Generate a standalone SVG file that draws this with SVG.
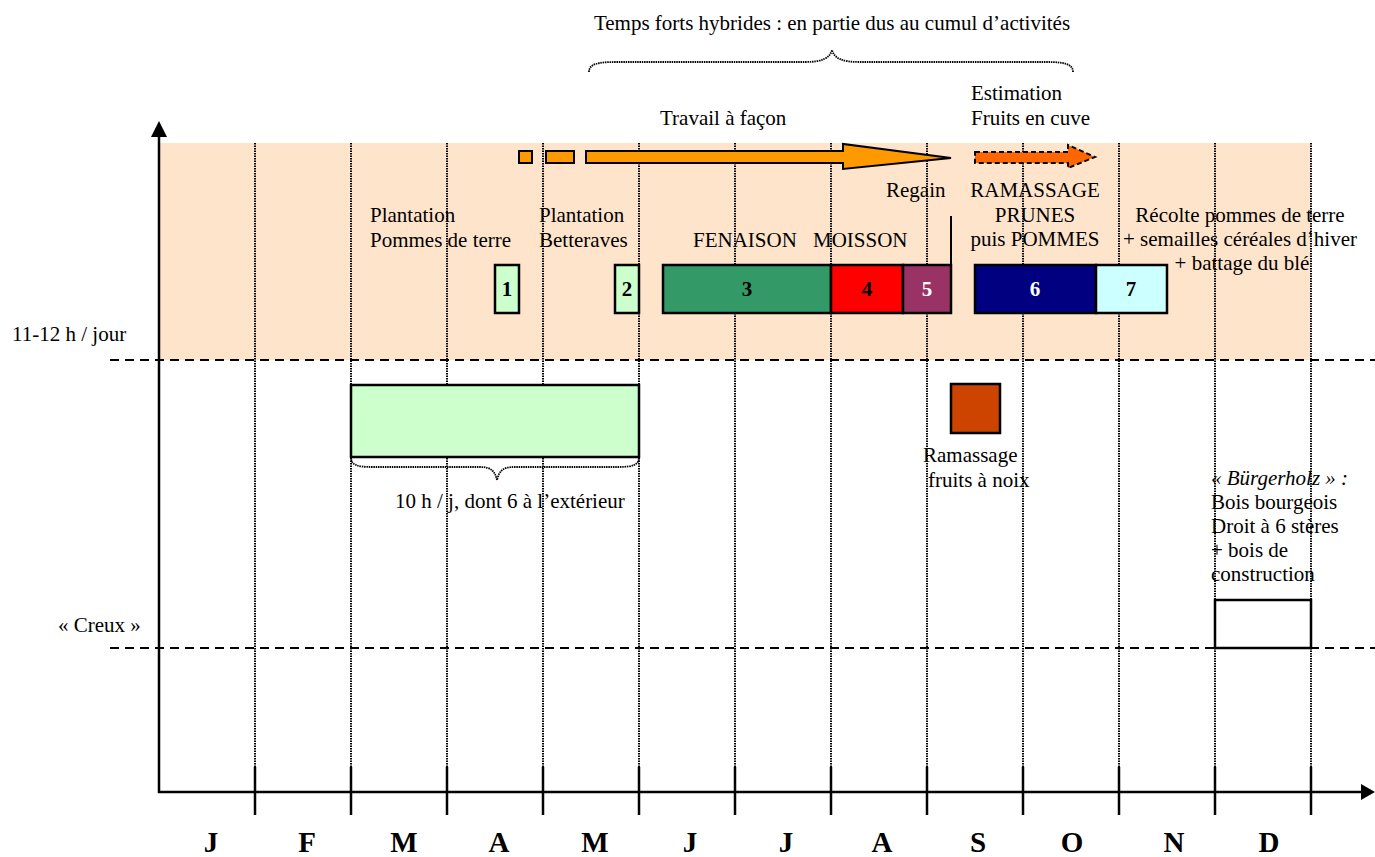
<svg xmlns="http://www.w3.org/2000/svg" width="1375" height="857" viewBox="0 0 1375 857">
<style>
  text { font-family: "Liberation Serif", "Times New Roman", serif; font-size: 21px; fill: #000; }
  .num { font-weight: bold; text-anchor: middle; }
  .month { font-weight: bold; font-size: 29px; text-anchor: middle; }
  .grid { stroke: #000; stroke-width: 2; stroke-dasharray: 1.5 1; fill: none; }
  .tick { stroke: #000; stroke-width: 2.5; fill: none; }
  .dash { stroke: #000; stroke-width: 2; stroke-dasharray: 9 6; fill: none; }
  .box { stroke: #000; stroke-width: 2.5; }
  .brace { stroke: #000; stroke-width: 1.8; stroke-dasharray: 1.5 0.8; fill: none; }
  .axis { stroke: #000; stroke-width: 2.5; fill: none; }
</style>
<rect width="1375" height="857" fill="#fff"/>

<g id="background">
  <rect x="159" y="143" width="1152" height="217" fill="#FFE4CC"/>
</g>

<g id="grid">
  <line class="grid" x1="255" y1="143" x2="255" y2="767"/>
  <line class="grid" x1="351" y1="143" x2="351" y2="767"/>
  <line class="grid" x1="447" y1="143" x2="447" y2="767"/>
  <line class="grid" x1="543" y1="143" x2="543" y2="767"/>
  <line class="grid" x1="639" y1="143" x2="639" y2="767"/>
  <line class="grid" x1="735" y1="143" x2="735" y2="767"/>
  <line class="grid" x1="831" y1="143" x2="831" y2="767"/>
  <line class="grid" x1="927" y1="143" x2="927" y2="767"/>
  <line class="grid" x1="1023" y1="143" x2="1023" y2="767"/>
  <line class="grid" x1="1119" y1="143" x2="1119" y2="767"/>
  <line class="grid" x1="1215" y1="143" x2="1215" y2="767"/>
  <line class="grid" x1="1311" y1="143" x2="1311" y2="767"/>
  <line class="dash" x1="110" y1="360" x2="1375" y2="360"/>
  <line class="dash" x1="110" y1="648" x2="1375" y2="648"/>
</g>

<g id="axes">
  <line class="axis" x1="159" y1="793" x2="159" y2="134"/>
  <path d="M151,137 L159,121 L167,137 Z" fill="#000"/>
  <line class="axis" x1="158" y1="792" x2="1364" y2="792"/>
  <path d="M1361,784 L1375,792 L1361,800 Z" fill="#000"/>
  <line class="tick" x1="255" y1="767" x2="255" y2="815"/>
  <line class="tick" x1="351" y1="767" x2="351" y2="815"/>
  <line class="tick" x1="447" y1="767" x2="447" y2="815"/>
  <line class="tick" x1="543" y1="767" x2="543" y2="815"/>
  <line class="tick" x1="639" y1="767" x2="639" y2="815"/>
  <line class="tick" x1="735" y1="767" x2="735" y2="815"/>
  <line class="tick" x1="831" y1="767" x2="831" y2="815"/>
  <line class="tick" x1="927" y1="767" x2="927" y2="815"/>
  <line class="tick" x1="1023" y1="767" x2="1023" y2="815"/>
  <line class="tick" x1="1119" y1="767" x2="1119" y2="815"/>
  <line class="tick" x1="1215" y1="767" x2="1215" y2="815"/>
  <line class="tick" x1="1311" y1="767" x2="1311" y2="815"/>
</g>

<g id="months">
  <text class="month" x="211" y="852">J</text>
  <text class="month" x="307" y="852">F</text>
  <text class="month" x="404" y="852">M</text>
  <text class="month" x="499" y="852">A</text>
  <text class="month" x="595" y="852">M</text>
  <text class="month" x="690" y="852">J</text>
  <text class="month" x="786" y="852">J</text>
  <text class="month" x="882" y="852">A</text>
  <text class="month" x="978" y="852">S</text>
  <text class="month" x="1072" y="852">O</text>
  <text class="month" x="1174" y="852">N</text>
  <text class="month" x="1269" y="852">D</text>
</g>

<g id="level-labels">
  <text x="12" y="341">11-12 h / jour</text>
  <text x="58" y="632">« Creux »</text>
</g>

<g id="hybrid-brace">
  <text x="832" y="30" text-anchor="middle">Temps forts hybrides : en partie dus au cumul d’activités</text>
  <path class="brace" d="M589,72 C589,64 598,62 615,62 L805,62 C822,62 830,58 832,50 C834,58 842,62 859,62 L1047,62 C1064,62 1073,64 1073,72"/>
</g>

<g id="travail-facon">
  <text x="660" y="125">Travail à façon</text>
  <rect x="519" y="151" width="13" height="12" fill="#FF9900" stroke="#000" stroke-width="2"/>
  <rect x="546" y="151" width="28" height="12" fill="#FF9900" stroke="#000" stroke-width="2"/>
  <path d="M586,151 L843,151 L843,144 L951,158 L843,169 L843,163 L586,163 Z" fill="#FF9900" stroke="#000" stroke-width="2" stroke-linejoin="miter"/>
</g>

<g id="estimation">
  <text x="971" y="100">Estimation</text>
  <text x="971" y="125">Fruits en cuve</text>
  <path d="M975,152 L1068,152 L1068,145 L1095,157 L1068,168 L1068,163 L975,163 Z" fill="#FF6600" stroke="#000" stroke-width="2" stroke-dasharray="5 3"/>
</g>

<g id="node1">
  <text x="370" y="222">Plantation</text>
  <text x="370" y="247">Pommes de terre</text>
  <rect class="box" x="495" y="265" width="24" height="48" fill="#CCFFCC"/>
  <text class="num" x="507" y="296">1</text>
</g>

<g id="node2">
  <text x="539" y="222">Plantation</text>
  <text x="539" y="247">Betteraves</text>
  <rect class="box" x="615" y="265" width="24" height="48" fill="#CCFFCC"/>
  <text class="num" x="627" y="296">2</text>
</g>

<g id="node3">
  <text x="693" y="247">FENAISON</text>
  <rect class="box" x="663" y="265" width="168" height="48" fill="#339966"/>
  <text class="num" x="747" y="296">3</text>
</g>

<g id="node4">
  <text x="813" y="247">MOISSON</text>
  <rect class="box" x="831" y="265" width="72" height="48" fill="#FF0000"/>
  <text class="num" x="867" y="296">4</text>
</g>

<g id="node5">
  <text x="886" y="197">Regain</text>
  <line x1="951" y1="216" x2="951" y2="265" stroke="#000" stroke-width="2"/>
  <rect class="box" x="903" y="265" width="48" height="48" fill="#993366"/>
  <text class="num" x="927" y="296" style="fill:#fff">5</text>
</g>

<g id="node6">
  <text x="1035" y="197" text-anchor="middle">RAMASSAGE</text>
  <text x="1035" y="222" text-anchor="middle">PRUNES</text>
  <text x="1035" y="246" text-anchor="middle">puis POMMES</text>
  <rect class="box" x="975" y="265" width="121" height="48" fill="#000080"/>
  <text class="num" x="1035" y="296" style="fill:#fff">6</text>
</g>

<g id="node7">
  <text x="1240" y="222" text-anchor="middle">Récolte pommes de terre</text>
  <text x="1240" y="246" text-anchor="middle">+ semailles céréales d’hiver</text>
  <text x="1242" y="270" text-anchor="middle">+ battage du blé</text>
  <rect class="box" x="1096" y="265" width="71" height="48" fill="#CCFFFF"/>
  <text class="num" x="1131" y="296">7</text>
</g>

<g id="node-10h">
  <rect class="box" x="351" y="385" width="288" height="72" fill="#CCFFCC"/>
  <path class="brace" d="M351,457 C351,465 357,467 372,467 L480,467 C492,467 495,472 497,480 C499,472 502,467 514,467 L618,467 C633,467 639,465 639,457"/>
  <text x="395" y="508">10 h / j, dont 6 à l’extérieur</text>
</g>

<g id="node-noix">
  <rect class="box" x="951" y="384" width="49" height="49" fill="#CC4400"/>
  <text x="923" y="462">Ramassage</text>
  <text x="928" y="487">fruits à noix</text>
</g>

<g id="node-burgerholz">
  <text x="1211" y="485" font-style="italic">« Bürgerholz » :</text>
  <text x="1211" y="509">Bois bourgeois</text>
  <text x="1211" y="533">Droit à 6 stères</text>
  <text x="1211" y="557">+ bois de</text>
  <text x="1211" y="581">construction</text>
  <rect class="box" x="1215" y="600" width="96" height="48" fill="#fff"/>
</g>
</svg>
